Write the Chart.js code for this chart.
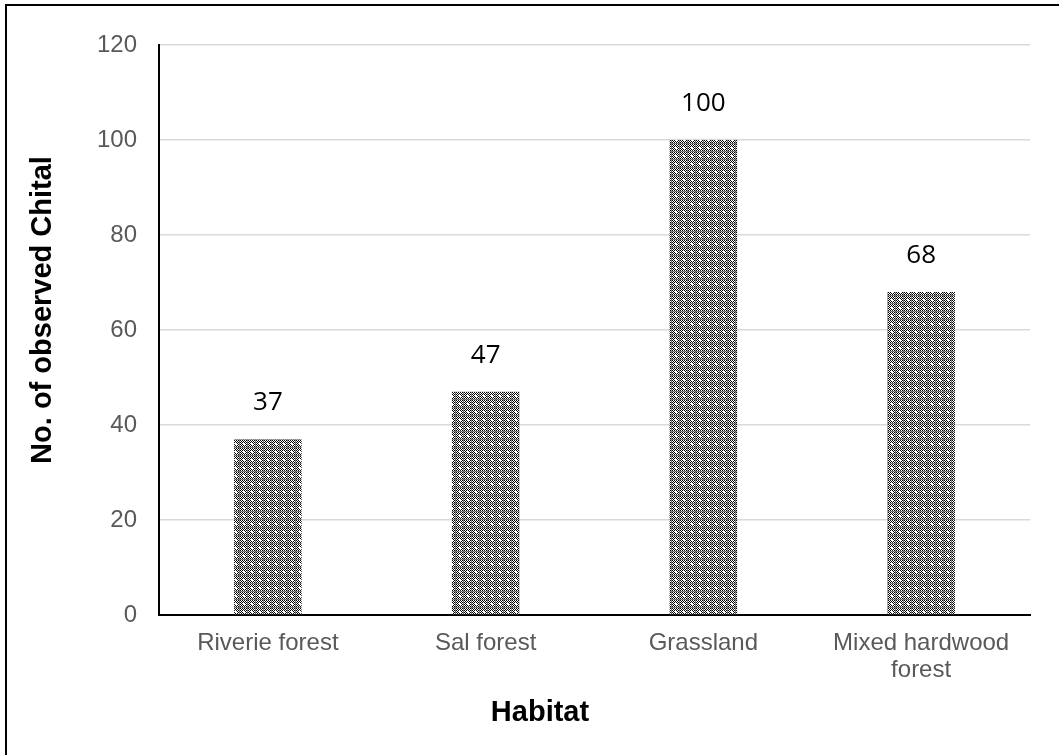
<!DOCTYPE html>
<html>
<head>
<meta charset="utf-8">
<script src="https://cdn.jsdelivr.net/npm/chart.js@4.4.1/dist/chart.umd.min.js"></script>
<style>
  html, body { margin: 0; padding: 0; background: #fff; overflow: hidden; }
  #wrap { position: relative; width: 1059px; height: 755px; }
  #frame { position: absolute; left: 5px; top: 4px; width: 1100px; height: 800px; border: 2px solid #000; box-sizing: border-box; }
  #c { position: absolute; left: 0; top: 0; }
</style>
</head>
<body>
<div id="wrap">
  <div id="frame"></div>
  <canvas id="c" width="1059" height="755"></canvas>
</div>
<script>
// Habitat categories and chital counts
const habitats = ['Riverie forest', 'Sal forest', 'Grassland', ['Mixed hardwood', 'forest']];
const chitalCounts = [37, 47, 100, 68];
const yTicks = [0, 20, 40, 60, 80, 100, 120];
const xTitle = 'Habitat';
const yTitle = 'No. of observed Chital';

// Dotted checker fill used for the bars
function makePattern() {
  const p = document.createElement('canvas');
  p.width = 8; p.height = 8;
  const g = p.getContext('2d');
  const img = g.createImageData(8, 8);
  for (let y = 0; y < 8; y++) {
    for (let x = 0; x < 8; x++) {
      let v = ((x + y) % 2 === 0) ? 0 : 255;
      if (x === 7 || y === 7) v = ((x + y) % 2 === 0) ? 90 : 150;
      if ((x === 3 || x === 4) && (y === 3 || y === 4)) v = 255;
      const i = (y * 8 + x) * 4;
      img.data[i] = v; img.data[i + 1] = v; img.data[i + 2] = v; img.data[i + 3] = 255;
    }
  }
  g.putImageData(img, 0, 0);
  return document.getElementById('c').getContext('2d').createPattern(p, 'repeat');
}

// Value labels above each bar
const valueLabels = {
  id: 'valueLabels',
  afterDatasetsDraw(chart) {
    const ctx = chart.ctx;
    const meta = chart.getDatasetMeta(0);
    ctx.save();
    ctx.font = '26px "Open Sans", sans-serif';
    ctx.fillStyle = '#000';
    ctx.textAlign = 'center';
    ctx.textBaseline = 'alphabetic';
    meta.data.forEach((bar, i) => {
      ctx.fillText(String(chart.data.datasets[0].data[i]), bar.x, bar.y - 29);
    });
    ctx.restore();
  }
};

// Axis titles, centred on the chart frame rather than the plot area
const axisTitles = {
  id: 'axisTitles',
  afterDraw(chart) {
    const ctx = chart.ctx;
    ctx.save();
    ctx.font = 'bold 29px "Liberation Sans", Arial, sans-serif';
    ctx.fillStyle = '#000';
    ctx.textAlign = 'center';
    ctx.textBaseline = 'middle';
    ctx.fillText(xTitle, 540, 713);
    ctx.translate(43, 310);
    ctx.rotate(-Math.PI / 2);
    ctx.fillText(yTitle, 0, 0);
    ctx.restore();
  }
};

new Chart(document.getElementById('c'), {
  type: 'bar',
  data: {
    labels: habitats,
    datasets: [{
      data: chitalCounts,
      backgroundColor: makePattern(),
      borderWidth: 0,
      barPercentage: 0.31,
      categoryPercentage: 1.0
    }]
  },
  options: {
    responsive: false,
    animation: false,
    devicePixelRatio: 1,
    layout: { padding: { top: 45, right: 29, bottom: 0, left: 0 } },
    plugins: { legend: { display: false }, tooltip: { enabled: false } },
    scales: {
      x: {
        grid: { display: false, drawTicks: false },
        border: { display: true, color: '#000', width: 2 },
        ticks: {
          color: '#595959',
          font: { family: '"Liberation Sans", Arial, sans-serif', size: 24, lineHeight: 1.13 },
          padding: 15,
          maxRotation: 0,
          autoSkip: false
        },
        afterFit(scale) { scale.height = 140; }
      },
      y: {
        min: 0,
        max: 120,
        afterBuildTicks(scale) { scale.ticks = yTicks.map(v => ({ value: v })); },
        grid: { color: '#d9d9d9', lineWidth: 1.5, drawTicks: false },
        border: { display: true, color: '#000', width: 2 },
        ticks: {
          color: '#595959',
          font: { family: '"Liberation Sans", Arial, sans-serif', size: 24 },
          padding: 22
        },
        afterFit(scale) { scale.width = 159; }
      }
    }
  },
  plugins: [valueLabels, axisTitles]
});
</script>
</body>
</html>
